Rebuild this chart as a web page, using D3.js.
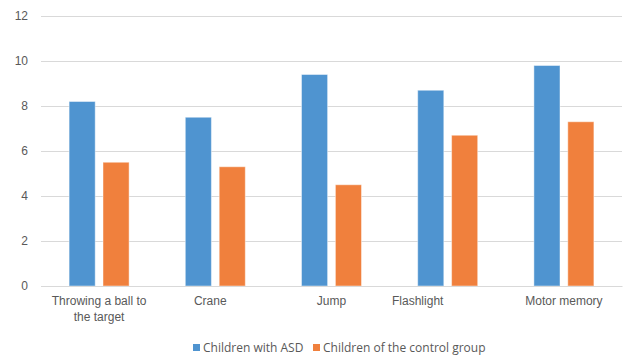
<!DOCTYPE html>
<html>
<head>
<meta charset="utf-8">
<script src="https://cdn.jsdelivr.net/npm/d3@7"></script>
<style>
  html, body { margin: 0; padding: 0; background: #fff; }
  svg { display: block; font-family: "Open Sans", "Liberation Sans", sans-serif; }
</style>
</head>
<body>
<svg id="chart" width="631" height="356"></svg>
<script>
// Motor task scores by group
const categories = ["Throwing a ball to the target", "Crane", "Jump", "Flashlight", "Motor memory"];
const seriesNames = ["Children with ASD", "Children of the control group"];
const asdValues = [8.2, 7.5, 9.4, 8.7, 9.8];
const controlValues = [5.5, 5.3, 4.5, 6.7, 7.3];
const yTicks = [0, 2, 4, 6, 8, 10, 12];

const colors = ["#4f94d0", "#f0803d"];
const series = [asdValues, controlValues];

const svg = d3.select("#chart");
const margin = { top: 16, right: 9, bottom: 70, left: 41 };
const width = 631 - margin.left - margin.right;
const height = 356 - margin.top - margin.bottom;

const g = svg.append("g").attr("transform", `translate(${margin.left},${margin.top})`);

const x = d3.scaleBand().domain(categories).range([0, width]).paddingInner(0).paddingOuter(0);
const x1 = d3.scaleBand().domain(seriesNames).range([x.bandwidth() / 2 - 30, x.bandwidth() / 2 + 30]).paddingInner(0.23);
const y = d3.scaleLinear().domain([0, 12]).range([height, 0]);

// horizontal gridlines and value labels
const yAxis = g.append("g")
  .call(d3.axisLeft(y).tickValues(yTicks).tickSize(-width).tickFormat(d3.format("d")));
yAxis.select(".domain").remove();
yAxis.selectAll(".tick line").attr("stroke", "#d9d9d9").attr("stroke-width", 1.2);
yAxis.selectAll(".tick text")
  .attr("x", -13)
  .attr("fill", "#595959")
  .attr("font-size", 12);

// bars
const groups = g.selectAll(".cat")
  .data(categories)
  .enter().append("g")
  .attr("transform", d => `translate(${x(d)},0)`);

groups.selectAll("rect")
  .data((d, i) => seriesNames.map((s, k) => ({ s, v: series[k][i], k })))
  .enter().append("rect")
  .attr("x", d => x1(d.s))
  .attr("width", x1.bandwidth())
  .attr("y", d => y(d.v))
  .attr("height", d => y(0) - y(d.v))
  .attr("fill", d => colors[d.k])
  .attr("stroke", "rgba(255,255,255,0.45)")
  .attr("stroke-width", 1);

// category axis
const xAxis = g.append("g")
  .attr("transform", `translate(0,${height})`)
  .call(d3.axisBottom(x).tickSize(0).tickPadding(10));
xAxis.select(".domain").attr("stroke", "#d9d9d9").attr("stroke-width", 1.2);

const labelShift = { "Flashlight": -30, "Crane": -5 };
xAxis.selectAll(".tick text")
  .attr("fill", "#595959")
  .attr("font-size", 12)
  .each(function(d) {
    const t = d3.select(this);
    const dx = labelShift[d] || 0;
    t.text(null).attr("x", dx);
    const lines = d === categories[0] ? ["Throwing a ball to", "the target"] : [d];
    lines.forEach((ln, i) => {
      t.append("tspan").attr("x", dx).attr("dy", i === 0 ? "0.71em" : 16).text(ln);
    });
  });

// legend
const legend = svg.append("g").attr("transform", "translate(193,348)");
const legendItems = [{ name: seriesNames[0], x: 0 }, { name: seriesNames[1], x: 120 }];
legendItems.forEach((it, k) => {
  const lg = legend.append("g").attr("transform", `translate(${it.x},0)`);
  lg.append("rect").attr("x", 0).attr("y", -4).attr("width", 7).attr("height", 7).attr("fill", colors[k]);
  lg.append("text").attr("x", 10).attr("y", 0).attr("dy", "0.35em")
    .attr("font-size", 12).attr("fill", "#595959").text(it.name);
});
</script>
</body>
</html>
